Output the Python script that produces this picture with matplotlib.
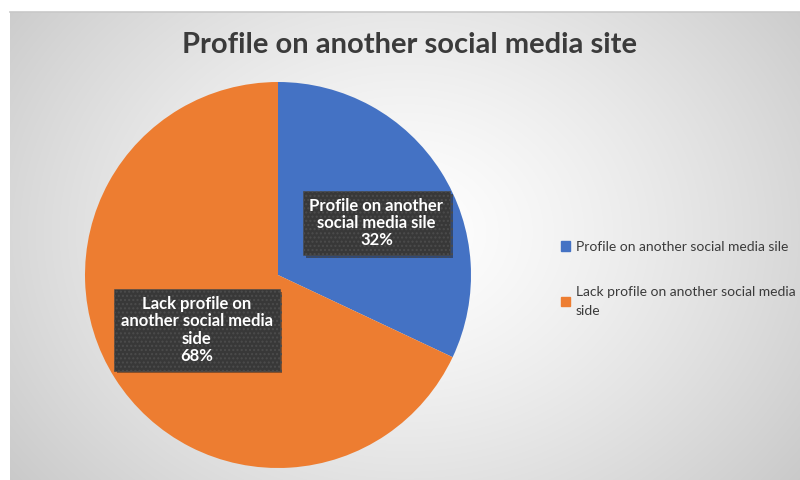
import numpy as np
import matplotlib.pyplot as plt
import matplotlib.patheffects as pe

title = "Profile on another social media site"
categories = ["Profile on another social media sile",
              "Lack profile on another social media\nside"]
box_labels = ["Profile on another\nsocial media sile", "Lack profile on\nanother social media\nside"]
shares = [32, 68]
colors = ["#4472c4", "#ed7d31"]

plt.rcParams["font.family"] = ["Lato", "DejaVu Sans"]

W, H = 800, 480
fig = plt.figure(figsize=(W / 100, H / 100), dpi=100)
fig.patch.set_facecolor("white")

# radial grey backdrop of the chart area
bg = fig.add_axes([10 / W, 0, 790 / W, 468 / H])
bg.set_axis_off()
yy, xx = np.mgrid[0:468, 0:790]
r = np.sqrt(((xx - 395) / 520) ** 2 + ((yy - 220) / 420) ** 2)
shade = np.clip(1.0 - 0.22 * r ** 1.3, 0, 1)
bg.imshow(np.dstack([shade] * 3), aspect="auto", extent=[0, 1, 0, 1])
bg.plot([0, 1], [1, 1], color="#c8c8c8", lw=1.2, transform=bg.transAxes, clip_on=False)

fig.text(410 / W, 1 - 45 / H, title, ha="center", va="center",
         fontsize=21, fontweight="bold", color="#3b3b3b")

cx, cy, R = 278, 275, 193
ax = fig.add_axes([(cx - R) / W, (H - cy - R) / H, 2 * R / W, 2 * R / H])
wedges, _ = ax.pie(shares, colors=colors, startangle=90, counterclock=False,
                   radius=1, wedgeprops=dict(linewidth=0))
ax.set_xlim(-1, 1)
ax.set_ylim(-1, 1)
ax.set_aspect("equal")

label_pos = [(0.51, 0.27), (-0.42, -0.285)]
for txt, val, (lx, ly) in zip(box_labels, shares, label_pos):
    t = ax.text(lx, ly, f"{txt}\n{val}%", ha="center", va="center",
                color="white", fontsize=12, fontweight="bold", linespacing=1.1,
                bbox=dict(boxstyle="square,pad=0.4", facecolor="#383838",
                          edgecolor="#4c4c4c", linewidth=0.4, hatch="...."))
    t.get_bbox_patch().set_path_effects(
        [pe.SimplePatchShadow(offset=(2, -2), shadow_rgbFace="#222222", alpha=0.5), pe.Normal()])

handles = [plt.Rectangle((0, 0), 1, 1, color=c) for c in colors]
leg = fig.legend(handles, categories, loc="upper left", bbox_to_anchor=(548 / W, 1 - 228 / H),
                 frameon=False, fontsize=10, handlelength=0.7, handleheight=0.7,
                 handletextpad=0.4, labelspacing=2.4, labelcolor="#3b3b3b")
for t in leg.get_texts():
    t.set_linespacing(1.7)

fig.savefig("out.png", dpi=100)
